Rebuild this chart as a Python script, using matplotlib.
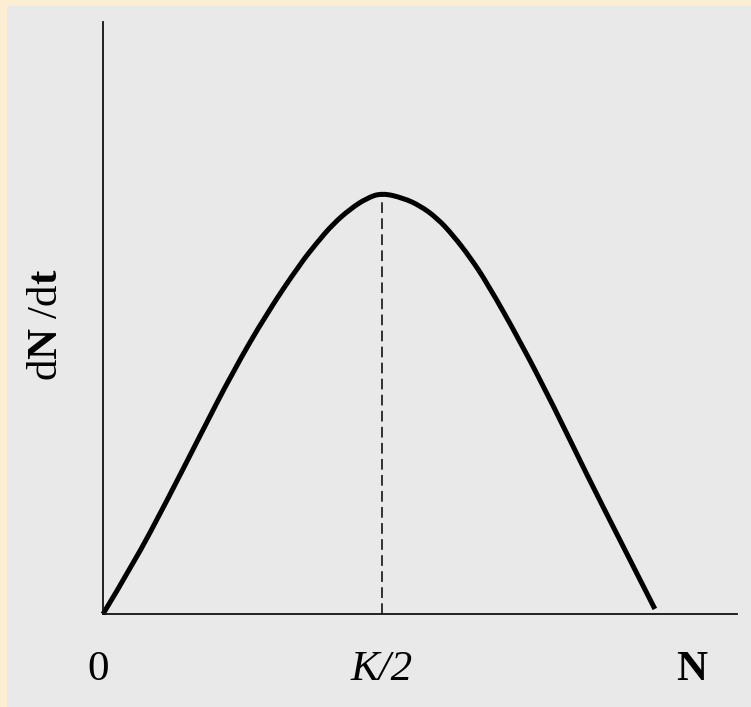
import numpy as np
import matplotlib
matplotlib.use("Agg")
import matplotlib.pyplot as plt
from matplotlib.patches import Rectangle, PathPatch
from matplotlib.path import Path

# curve (N in units of K, dN/dt in units of the maximum)
N_values = [0.0, 0.054, 0.115, 0.174, 0.233, 0.294, 0.353, 0.384, 0.412, 0.443, 0.473, 0.5,
            0.538, 0.568, 0.599, 0.627, 0.658, 0.688, 0.747, 0.807, 0.867, 0.927, 0.989]
rate_values = [0.0, 0.118, 0.270, 0.424, 0.576, 0.715, 0.831, 0.883, 0.926, 0.962, 0.988, 1.0,
               0.988, 0.970, 0.940, 0.900, 0.847, 0.787, 0.649, 0.495, 0.331, 0.174, 0.012]
k_half = 0.5
peak_rate = 1.0

x_labels = ["0", "K/2", "N"]
x_label_pos = [-0.009, k_half, 1.0556]
x_label_style = [('normal', 'normal'), ('italic', 'normal'), ('normal', 'bold')]
y_label = "$\\mathrm{d}\\mathbf{N}\\ \\mathrm{/d}\\mathbf{t}$"

plt.rcParams['font.family'] = ['Liberation Serif', 'DejaVu Serif']
plt.rcParams['mathtext.fontset'] = 'custom'
plt.rcParams['mathtext.rm'] = 'Liberation Serif'
plt.rcParams['mathtext.it'] = 'Liberation Serif:italic'
plt.rcParams['mathtext.bf'] = 'Liberation Serif:bold'


def smooth_path(xs, ys):
    # quadratic bezier through the midpoints, read points act as control points
    pts = list(zip(xs, ys))
    verts = [pts[0]]
    codes = [Path.MOVETO]
    for i in range(1, len(pts) - 1):
        nxt = pts[i + 1] if i == len(pts) - 2 else ((pts[i][0] + pts[i + 1][0]) / 2,
                                                     (pts[i][1] + pts[i + 1][1]) / 2)
        verts += [pts[i], nxt]
        codes += [Path.CURVE3, Path.CURVE3]
    return Path(verts, codes)


W, H = 751, 707
fig = plt.figure(figsize=(W / 100, H / 100), dpi=100, facecolor='#fbeed3')

# grey slide panel
fig.patches.append(Rectangle((7 / W, 0), 1, 1 - 6 / H, transform=fig.transFigure,
                             facecolor='#e9e9e9', edgecolor='none', zorder=-5))

ax = fig.add_axes([103 / W, (H - 614) / H, (737 - 103) / W, (614 - 22) / H])
ax.set_zorder(2)
ax.set_facecolor('none')
ax.set_xlim(0, 634 / 558)
ax.set_ylim(0, 592 / 421)

curve = PathPatch(smooth_path(N_values, rate_values), facecolor='none', edgecolor='black',
                  lw=3.6, capstyle='butt', joinstyle='round', clip_on=False)
ax.add_patch(curve)
ax.plot([k_half, k_half], [0, peak_rate], color='black', lw=1.1, linestyle=(0, (7, 3.5)))

for s in ['top', 'right']:
    ax.spines[s].set_visible(False)
for s in ['left', 'bottom']:
    ax.spines[s].set_linewidth(1.3)
    ax.spines[s].set_color('#111111')
ax.set_xticks([])
ax.set_yticks([])

for lab, xp, (st, wt) in zip(x_labels, x_label_pos, x_label_style):
    ax.text(xp, -0.157, lab, fontsize=31, ha='center', va='baseline', style=st, weight=wt,
            clip_on=False)

ax.text(-0.1, 0.686, y_label, fontsize=31, rotation=90, ha='center', va='center', clip_on=False)

fig.savefig("out.png", dpi=100, facecolor=fig.get_facecolor())
